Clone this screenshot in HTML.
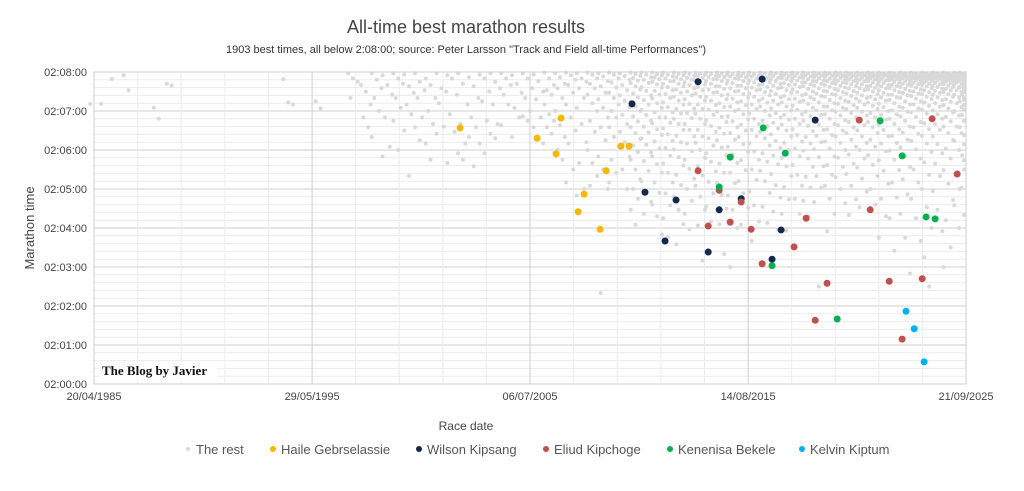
<!DOCTYPE html>
<html><head><meta charset="utf-8"><style>
html,body{margin:0;padding:0;background:#fff;}
body{width:1024px;height:486px;overflow:hidden;font-family:"Liberation Sans",Arial,sans-serif;}
</style></head><body>
<svg id="chart" width="1024" height="486" xmlns="http://www.w3.org/2000/svg" font-family="Liberation Sans, Arial, sans-serif">
<text x="466" y="33" text-anchor="middle" font-size="18" fill="#444">All-time best marathon results</text>
<text x="466" y="53" text-anchor="middle" font-size="11" fill="#333">1903 best times, all below 2:08:00; source: Peter Larsson "Track and Field all-time Performances")</text>
<g id="grid"></g>
<g id="rest"></g>
<g id="marks"></g>
<g id="axes"></g>
<rect x="99" y="361" width="118" height="19" fill="#fff"/>
<text x="102" y="375" font-family="Liberation Serif, serif" font-weight="bold" font-size="13" fill="#111">The Blog by Javier</text>
<text transform="translate(34,228) rotate(-90)" text-anchor="middle" font-size="13" fill="#444">Marathon time</text>
<text x="466" y="430" text-anchor="middle" font-size="12" fill="#444">Race date</text>
<g id="legend"></g>
</svg>
<script>
const xTickLabels = ["20/04/1985","29/05/1995","06/07/2005","14/08/2015","21/09/2025"];
const xTickYears = [1985.30,1995.41,2005.51,2015.62,2025.72];
const yTickLabels = ["02:00:00","02:01:00","02:02:00","02:03:00","02:04:00","02:05:00","02:06:00","02:07:00","02:08:00"];
const yTickSecs = [0,60,120,180,240,300,360,420,480];

const seriesNames = ["Haile Gebrselassie","Wilson Kipsang","Eliud Kipchoge","Kenenisa Bekele","Kelvin Kiptum"];
const seriesColors = ["#f5b800","#14284b","#c0504d","#00b050","#00b0f0"];
const haileDates = [2002.27,2005.84,2006.95,2006.72,2009.73,2010.10,2009.04,2008.02,2007.74,2008.76];
const haileTimes = [394,378,409,354,366,366,328,292,265,238];
const wilsonDates = [2013.30,2016.27,2010.24,2018.73,2010.84,2012.28,2014.28,2015.30,2017.15,2011.77,2013.77,2016.73];
const wilsonTimes = [465,469,431,406,295,283,268,285,237,220,203,192];
const eliudDates = [2020.77,2024.15,2025.31,2013.30,2014.28,2015.30,2014.79,2013.77,2015.76,2018.31,2021.28,2017.75,2016.27,2019.28,2022.16,2023.69,2018.73,2022.76];
const eliudTimes = [406,408,323,328,298,280,249,243,238,255,268,211,185,155,158,162,98,69];
const kenenisaDates = [2021.74,2016.32,2017.34,2014.79,2014.28,2022.76,2023.87,2024.29,2016.73,2019.75];
const kenenisaTimes = [405,394,355,349,303,351,257,254,182,100];
const kiptumDates = [2022.94,2023.32,2023.78];
const kiptumTimes = [112,85,34];

const restDates = [1985.35,1985.85,1986.35,1986.9,1988.3,1988.9,1994.3,1995.8,1997.3,1997.9,1998.4,1998.9,1999.4,1999.9,2000.4,2000.9,2001.4,2001.9,2002.4,2002.9,2003.4,2003.9,2004.4,2004.9,2005.4,2005.9,2006.4,2006.9,2007.4,2007.9,2008.4,2008.9,2009.4,2009.9,2010.4,2010.9,2011.4,2011.9,2012.4,2012.9,2013.4,2013.9,2014.4,2014.9,2015.4,2015.9,2016.4,2016.9,2017.4,2017.9,2018.4,2018.9,2019.4,2019.9,2020.4,2020.9,2021.4,2021.9,2022.4,2022.9,2023.4,2023.9,2024.4,2024.9,2025.4,2025.65];
const restTimes = [
"431","431","469","475 452","425 408","462 459","469 433 430","435 424",
"478 470 465 440","460 450 430 410 395","478 468 455 440 420 380","475 460 445 410 365 350",
"478 470 462 440 425 405 360","476 458 448 430 415 390 320","478 465 452 440 410 395 375","470 460 440 420 400 370 345",
"478 455 450 432 396 385","475 470 445 415 388 340","478 462 430 400 370 355 345","472 458 440 410 395 380 335",
"476 470 450 435 405 370 355","478 465 455 430 400 385 378","478 470 460 445 430 398","475 462 448 425 410 380",
"478 470 455 440 420 412 405","476 466 450 438 410 395 380 370","479 470 460 452 445 430 415 405 395 385","478 472 462 455 440 420 398 380 360 345",
"479 475 468 460 448 430 410 390 370 330 310","478 470 465 455 440 425 400 372 340 300 290","479 476 470 462 455 445 432 420 405 388 360 340 320 305","478 473 466 458 448 438 425 410 395 375 350 330 300 140",
"479 476 470 464 456 448 440 430 420 410 395 380 365 345 325 310","478 474 468 460 452 444 436 426 414 400 388 372 350 330 300",
"479 477 474 471 467 463 458 453 447 441 434 427 420 412 404 395 386 377 367 357 345 330 315 300 285 268 245",
"479 476 472 468 463 457 451 444 437 430 422 414 405 396 387 378 368 356 343 328 312 296 280 262",
"479 477 475 472 469 465 461 456 451 445 439 432 425 418 410 401 392 383 373 362 350 338 325 310 294 276 258 230",
"479 476 473 470 466 462 457 452 446 440 433 426 418 410 402 393 384 374 363 351 339 325 310 293 275 255 226",
"479 477 475 472 469 466 462 458 453 448 442 436 430 423 416 408 400 391 382 372 361 349 336 322 306 288 268 246 215",
"479 477 474 471 468 464 460 455 450 444 438 431 424 417 409 400 391 381 370 358 345 331 316 300 282 262 238",
"479 478 476 474 471 468 465 461 457 452 447 442 436 430 423 416 408 400 391 381 371 360 348 335 321 305 288 268 244 190",
"479 477 475 472 469 466 462 458 453 448 442 436 429 422 414 406 397 388 378 367 355 342 327 311 293 273 250",
"479 478 476 474 472 469 466 462 458 454 449 444 438 432 426 419 411 403 394 385 375 364 352 339 325 309 291 270 246 200",
"479 477 475 473 470 467 463 459 455 450 445 439 433 427 420 412 404 395 386 376 365 353 340 325 309 290 268 240 180",
"479 478 476 474 472 469 466 463 459 455 451 446 441 435 429 422 415 407 399 390 380 369 357 344 329 312 293 271 245",
"479 477 475 473 470 467 464 460 456 452 447 442 436 430 423 416 408 400 391 381 370 358 345 330 314 296 275 250 220",
"479 478 476 474 472 470 467 464 461 457 453 449 444 439 433 427 420 413 405 397 388 378 367 355 342 328 312 294 273 248",
"479 478 476 474 471 469 466 462 459 455 451 446 441 436 430 424 417 410 402 393 384 374 363 351 338 323 306 287 265 238",
"479 478 477 475 473 471 469 466 463 460 456 452 448 443 438 433 427 421 414 407 399 390 381 371 360 348 335 320 303 284 262 236",
"479 478 476 474 472 470 467 464 461 457 453 449 444 439 434 428 422 415 408 400 392 383 373 362 350 337 322 305 285 262",
"479 478 477 475 473 471 469 466 464 461 458 454 450 446 441 436 431 425 419 412 405 397 389 380 370 359 347 334 319 302 282 258",
"479 478 477 475 474 472 470 467 465 462 459 455 451 447 443 438 433 427 421 414 407 399 391 382 372 361 349 335 320 302 280 150",
"479 478 477 476 474 472 470 468 466 463 460 457 454 450 446 442 437 432 427 421 415 408 400 392 383 373 362 350 337 322 305 285 262 235",
"479 478 477 476 474 473 471 469 467 464 462 459 456 452 449 445 440 436 431 425 419 413 406 398 390 381 371 360 348 334 318 300 278",
"479 478 477 476 475 473 472 470 468 466 463 461 458 455 451 447 443 439 434 429 423 417 410 403 395 386 376 365 353 339 323 305 284 260",
"479 478 477 476 475 474 472 470 468 466 464 461 458 455 452 448 444 440 435 430 425 419 413 406 398 390 381 371 360 347 333 316 296 272",
"479 478 477 476 475 474 473 471 470 468 466 464 461 459 456 453 450 446 442 438 433 428 423 417 410 403 395 386 376 365 352 337 320 300 276",
"479 478 477 476 475 474 473 471 469 467 465 463 460 458 455 452 448 445 441 436 431 426 420 414 407 399 391 381 370 358 344 328 308 285 258 225",
"479 478 477 476 475 474 473 472 470 469 467 465 463 460 458 455 452 449 445 441 437 432 427 421 415 408 400 392 382 371 359 345 329 310 287 255 205",
"479 478 477 476 475 474 473 472 471 469 468 466 464 462 460 457 454 451 448 444 440 435 430 425 419 412 405 396 387 376 364 350 334 315 292 262 225 170",
"479 478 477 476 475 474 473 472 471 470 468 467 465 463 461 459 456 453 450 447 443 439 435 430 424 418 411 403 395 385 374 361 347 330 310 285 255 220",
"479 478 477 476 475 474 473 472 471 470 469 467 466 464 462 460 458 455 452 449 446 442 438 433 428 422 416 409 401 392 382 370 357 341 322 300 272 240 195 150",
"479 478 477 476 475 474 473 472 471 470 468 467 465 463 461 459 457 454 451 448 445 441 437 432 427 421 415 408 400 391 381 369 355 339 320 297 268 235",
"479 478 477 476 475 474 473 472 471 470 469 468 466 465 463 461 459 457 454 452 449 446 442 438 434 429 424 418 411 404 396 386 375 362 347 329 308 283 252 210 180",
"479 478 477 476 475 474 473 472 471 470 469 467 466 464 462 460 457 455 452 449 445 441 437 432 426 420 413 405 396 386 374 360 344 325 302 275 240",
"479 478 477 476 475 474 473 472 471 470 468 466 464 462 459 456 453 449 445 440 435 429 422 414 405 395 383 369 352 330 300 260"
];

const X0=94,X1=966,Y0=384,Y1=72;
const xMin=1985.30,xMax=2025.72,yMin=0,yMax=480;
function xs(v){return X0+(v-xMin)/(xMax-xMin)*(X1-X0);}
function ys(v){return Y0-(v-yMin)/(yMax-yMin)*(Y0-Y1);}
const NS="http://www.w3.org/2000/svg";
function mk(tag,attrs,parent){const e=document.createElementNS(NS,tag);for(const k in attrs)e.setAttribute(k,attrs[k]);parent.appendChild(e);return e;}

const grid=document.getElementById('grid');
for(let s=0;s<=480;s+=12){
  const l=mk('line',{x1:X0,x2:X1,y1:ys(s),y2:ys(s),stroke:(s%60===0)?'#cfcfcf':'#ececec','stroke-width':1},grid);
  
  
}
for(let i=0;i<xTickYears.length-1;i++){
  for(let j=0;j<5;j++){
    const v=xTickYears[i]+(xTickYears[i+1]-xTickYears[i])*j/5;
    const l=mk('line',{x1:xs(v),x2:xs(v),y1:Y1,y2:Y0,stroke:j===0?'#cfcfcf':'#ececec','stroke-width':1},grid);
    
    
  }
}
const axes=document.getElementById('axes');
const fr=mk('rect',{x:X0,y:Y1,width:X1-X0,height:Y0-Y1,fill:'none',stroke:'#cfcfcf','stroke-width':1},axes);


yTickLabels.forEach((t,i)=>{
  const e=mk('text',{x:87,y:ys(yTickSecs[i])+4,'text-anchor':'end','font-size':11,fill:'#444'},axes);
  e.textContent=t;
  
  
});
xTickLabels.forEach((t,i)=>{
  const e=mk('text',{x:xs(xTickYears[i]),y:400,'text-anchor':'middle','font-size':11,fill:'#444'},axes);
  e.textContent=t;
  
  
});

const rest=document.getElementById('rest');
restDates.forEach((d,i)=>{
  const str=restTimes[i];
  if(!str) return;
  str.split(' ').forEach((s,k)=>{
    const dx=(((k*7)%5)-2)*2.4;
    let cx=xs(d)+dx;
    if(cx>X1-2) cx=X1-2;
    const c=mk('circle',{cx:cx,cy:ys(+s),r:2,fill:'#d9d9d9'},rest);
    
    
  });
});
const marks=document.getElementById('marks');
const allDates=[haileDates,wilsonDates,eliudDates,kenenisaDates,kiptumDates];
const allTimes=[haileTimes,wilsonTimes,eliudTimes,kenenisaTimes,kiptumTimes];
allDates.forEach((ds,si)=>{
  ds.forEach((d,i)=>{
    const c=mk('circle',{cx:xs(d),cy:ys(allTimes[si][i]),r:3.5,fill:seriesColors[si]},marks);
    
    
  });
});

const legend=document.getElementById('legend');
const legNames=["The rest"].concat(seriesNames);
const legColors=["#d9d9d9"].concat(seriesColors);
const legX=[188,273,419,546,670,802];
legNames.forEach((n,i)=>{
  const g=mk('g',{},legend);
  
  
  mk('circle',{cx:legX[i],cy:449,r:i===0?2:3,fill:legColors[i]},g);
  const t=mk('text',{x:legX[i]+8,y:454,'font-size':13,fill:'#555'},g);
  t.textContent=n;
});
</script>
</body></html>
